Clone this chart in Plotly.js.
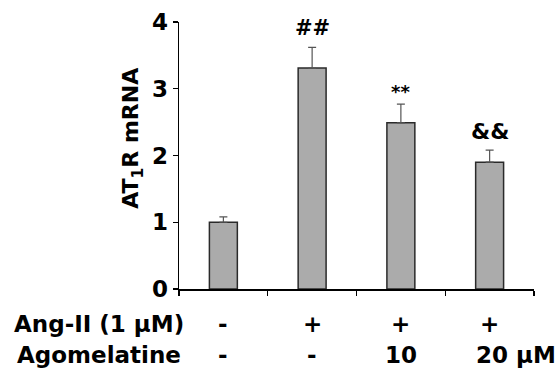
<!DOCTYPE html>
<html>
<head>
<meta charset="utf-8">
<script src="https://cdn.plot.ly/plotly-3.0.1.min.js"></script>
<style>html,body{margin:0;padding:0;background:#fff;}#chart{width:555px;height:370px;}</style>
</head>
<body>
<div id="chart"></div>
<script>
// Data
const groups = ["Control", "Ang-II", "Ang-II + Ago 10", "Ang-II + Ago 20"];
const values = [1.00, 3.31, 2.49, 1.90];
const errors = [0.08, 0.31, 0.28, 0.18];
const sigLabels = ["", "##", "**", "&&"];
const angRow = ["-", "+", "+", "+"];
const agoRow = ["-", "-", "10", "20 μM"];
const rowLabels = ["Ang-II (1 μM)", "Agomelatine"];
const yTickVals = [0, 1, 2, 3, 4];

const FONT = "DejaVu Sans, Liberation Sans, Arial, sans-serif";
const xPos = groups.map((g, i) => i + 0.5);

const trace = {
  type: "bar",
  x: xPos,
  y: values,
  width: 0.315,
  marker: {color: "#ababab", line: {color: "#2a2a2a", width: 1.5}},
  error_y: {type: "data", symmetric: false, array: errors, arrayminus: errors.map(() => 0),
            color: "#555555", thickness: 1.2, width: 4},
  hoverinfo: "none"
};

const annotations = [];
const sigSizes = [20, 21, 18, 22];
const sigShift = [0, 1, -4, 0];
sigLabels.forEach((s, i) => {
  if (!s) return;
  annotations.push({x: xPos[i], y: values[i] + errors[i], xref: "x", yref: "y",
    text: "<b>" + s + "</b>", showarrow: false, yanchor: "bottom", yshift: 4 + sigShift[i],
    font: {family: FONT, size: sigSizes[i], color: "#000"}});
});
angRow.forEach((s, i) => {
  annotations.push({x: xPos[i], y: -0.131, xref: "x", yref: "paper", text: "<b>" + s + "</b>",
    showarrow: false, yanchor: "middle", font: {family: FONT, size: 23, color: "#000"}});
});
agoRow.forEach((s, i) => {
  const isLast = i === agoRow.length - 1;
  annotations.push({x: xPos[i], y: -0.247, xref: "x", yref: "paper", text: "<b>" + s + "</b>",
    showarrow: false, yanchor: "middle", xanchor: isLast ? "left" : "center", xshift: isLast ? -16 : 0,
    font: {family: FONT, size: 23, color: "#000"}});
});
rowLabels.forEach((s, r) => {
  annotations.push({x: -0.225, y: r === 0 ? -0.131 : -0.247, xref: "paper", yref: "paper",
    text: "<b>" + s + "</b>", showarrow: false, xanchor: "center", yanchor: "middle",
    font: {family: FONT, size: 23, color: "#000"}});
});
annotations.push({x: -0.13, y: 0.566, xref: "paper", yref: "paper", textangle: -90,
  text: "<b>AT<sub>1</sub>R mRNA</b>", showarrow: false, xanchor: "center", yanchor: "middle",
  font: {family: FONT, size: 22, color: "#000"}});

const layout = {
  width: 555, height: 370,
  margin: {l: 179, r: 21, t: 22, b: 81},
  paper_bgcolor: "#fff", plot_bgcolor: "#fff",
  showlegend: false,
  xaxis: {range: [0, 4], tickvals: [0, 1, 2, 3, 4], showticklabels: false,
          ticks: "outside", ticklen: 5, tickwidth: 1.2, tickcolor: "#000",
          showline: true, linecolor: "#000", linewidth: 1.5, showgrid: false, zeroline: false, fixedrange: true},
  yaxis: {range: [0, 4], tickvals: yTickVals, ticks: "outside", ticklen: 5, tickwidth: 1.2, tickcolor: "#000",
          showline: true, linecolor: "#000", linewidth: 1.5, showgrid: false, zeroline: false,
          tickfont: {family: FONT, size: 23, color: "#000", weight: "bold"}, ticklabelstandoff: 0, fixedrange: true},
  annotations: annotations
};

Plotly.newPlot("chart", [trace], layout, {staticPlot: true, displayModeBar: false});
</script>
</body>
</html>
